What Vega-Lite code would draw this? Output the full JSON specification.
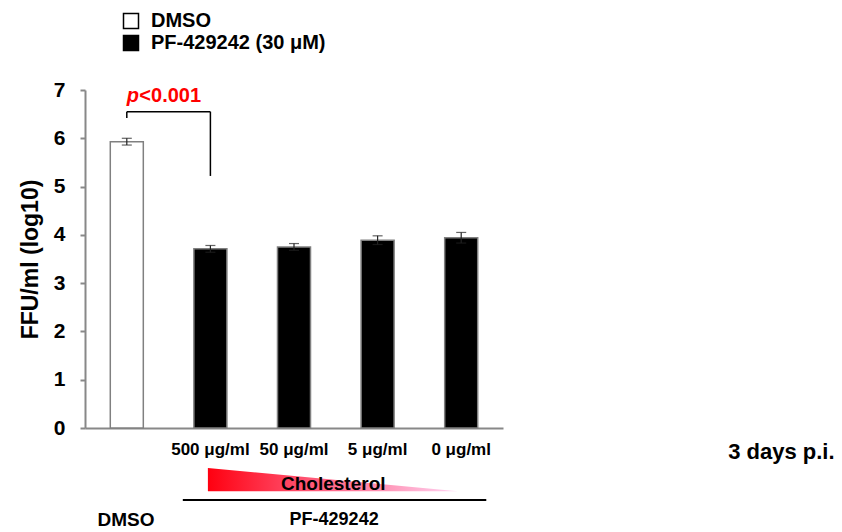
{
  "$schema": "https://vega.github.io/schema/vega-lite/v6.json",
  "autosize": "none",
  "width": 418,
  "height": 338,
  "padding": {"left": 85, "top": 90, "right": 339, "bottom": 104},
  "background": "white",
  "config": {
    "view": {"stroke": null},
    "font": "Liberation Sans",
    "text": {"font": "Liberation Sans", "fontWeight": "bold"}
  },
  "resolve": {"scale": {"x": "independent", "y": "independent"}},
  "layer": [
    {
      "data": {
        "values": [
          {"group": "DMSO", "treatment": "DMSO", "value": 5.93, "lo": 5.86, "hi": 6.0},
          {"group": "500 μg/ml", "treatment": "PF-429242 (30 μM)", "value": 3.71, "lo": 3.64, "hi": 3.78},
          {"group": "50 μg/ml", "treatment": "PF-429242 (30 μM)", "value": 3.75, "lo": 3.68, "hi": 3.82},
          {"group": "5 μg/ml", "treatment": "PF-429242 (30 μM)", "value": 3.89, "lo": 3.8, "hi": 3.98},
          {"group": "0 μg/ml", "treatment": "PF-429242 (30 μM)", "value": 3.94, "lo": 3.83, "hi": 4.05}
        ]
      },
      "layer": [
        {
          "mark": {"type": "bar", "stroke": "#808080", "strokeWidth": 1.5},
          "encoding": {
            "x": {
              "field": "group", "type": "nominal", "sort": null,
              "scale": {"paddingInner": 0.605, "paddingOuter": 0.3025},
              "axis": {
                "title": null,
                "labelExpr": "datum.value == 'DMSO' ? '' : datum.value",
                "labelAngle": 0,
                "labelOverlap": false,
                "ticks": false,
                "tickSize": 0,
                "domainColor": "#888888",
                "domainWidth": 2,
                "labelFont": "Liberation Sans",
                "labelFontWeight": "bold",
                "labelFontSize": 17,
                "labelColor": "black",
                "labelPadding": 13
              }
            },
            "y": {
              "field": "value", "type": "quantitative",
              "scale": {"domain": [0, 7], "nice": false, "zero": true},
              "axis": {
                "title": "FFU/ml (log10)",
                "values": [0, 1, 2, 3, 4, 5, 6, 7],
                "grid": false,
                "domainColor": "#888888",
                "domainWidth": 2,
                "tickColor": "#888888",
                "tickWidth": 2,
                "tickSize": 5,
                "labelFont": "Liberation Sans",
                "labelFontWeight": "bold",
                "labelFontSize": 21,
                "labelColor": "black",
                "labelPadding": 15,
                "titleFont": "Liberation Sans",
                "titleFontWeight": "bold",
                "titleFontSize": 23,
                "titleColor": "black",
                "titlePadding": 11
              }
            },
            "fill": {
              "field": "treatment", "type": "nominal",
              "scale": {"domain": ["DMSO", "PF-429242 (30 μM)"], "range": ["white", "black"]},
              "legend": {
                "orient": "none",
                "legendX": 36,
                "legendY": -79,
                "title": null,
                "symbolType": "square",
                "symbolSize": 225,
                "symbolStrokeColor": "black",
                "symbolStrokeWidth": 1.5,
                "labelFont": "Liberation Sans",
                "labelFontWeight": "bold",
                "labelFontSize": 20,
                "labelColor": "black",
                "labelOffset": 10,
                "labelLimit": 500,
                "rowPadding": 0
              }
            }
          }
        },
        {
          "mark": {"type": "rule", "color": "#222222", "strokeWidth": 1.2},
          "encoding": {
            "x": {"field": "group", "type": "nominal", "sort": null},
            "y": {"field": "lo", "type": "quantitative"},
            "y2": {"field": "hi"}
          }
        },
        {
          "mark": {"type": "tick", "color": "#222222", "size": 10, "thickness": 1.2},
          "encoding": {
            "x": {"field": "group", "type": "nominal", "sort": null},
            "y": {"field": "hi", "type": "quantitative"}
          }
        },
        {
          "mark": {"type": "tick", "color": "#222222", "size": 10, "thickness": 1.2},
          "encoding": {
            "x": {"field": "group", "type": "nominal", "sort": null},
            "y": {"field": "lo", "type": "quantitative"}
          }
        }
      ]
    },
    {
      "layer": [
        {
          "data": {
            "values": [
              {"x": 0.5, "x2": 0.5, "y": 6.42, "y2": 6.55},
              {"x": 0.5, "x2": 1.5, "y": 6.55, "y2": 6.55},
              {"x": 1.5, "x2": 1.5, "y": 5.22, "y2": 6.55}
            ]
          },
          "mark": {"type": "rule", "color": "black", "strokeWidth": 1.5},
          "encoding": {
            "x": {"field": "x", "type": "quantitative", "scale": {"domain": [0, 5], "nice": false, "zero": false}, "axis": null},
            "x2": {"field": "x2"},
            "y": {"field": "y", "type": "quantitative", "scale": {"domain": [0, 7], "nice": false, "zero": false}, "axis": null},
            "y2": {"field": "y2"}
          }
        },
        {
          "data": {"values": [{"x": 0.5, "y": 6.87, "label": "p"}]},
          "mark": {"type": "text", "align": "left", "baseline": "middle", "fontStyle": "italic", "fontWeight": "bold", "fontSize": 20, "color": "#ff0000"},
          "encoding": {
            "x": {"field": "x", "type": "quantitative", "scale": {"domain": [0, 5], "nice": false, "zero": false}, "axis": null},
            "y": {"field": "y", "type": "quantitative", "scale": {"domain": [0, 7], "nice": false, "zero": false}, "axis": null},
            "text": {"field": "label"}
          }
        },
        {
          "data": {"values": [{"x": 0.65, "y": 6.87, "label": "<0.001"}]},
          "mark": {"type": "text", "align": "left", "baseline": "middle", "fontWeight": "bold", "fontSize": 20, "color": "#ff0000"},
          "encoding": {
            "x": {"field": "x", "type": "quantitative", "scale": {"domain": [0, 5], "nice": false, "zero": false}, "axis": null},
            "y": {"field": "y", "type": "quantitative", "scale": {"domain": [0, 7], "nice": false, "zero": false}, "axis": null},
            "text": {"field": "label"}
          }
        },
        {
          "data": {
            "values": [
              {"x": 1.47, "y": -0.83, "y2": -1.31},
              {"x": 4.46, "y": -1.31, "y2": -1.31}
            ]
          },
          "mark": {
            "type": "area",
            "color": {
              "gradient": "linear",
              "x1": 0, "y1": 0, "x2": 1, "y2": 0,
              "stops": [
                {"offset": 0, "color": "#ff0010"},
                {"offset": 0.5, "color": "#ff6a8c"},
                {"offset": 1, "color": "#ffd4f4"}
              ]
            }
          },
          "encoding": {
            "x": {"field": "x", "type": "quantitative", "scale": {"domain": [0, 5], "nice": false, "zero": false}, "axis": null},
            "y": {"field": "y", "type": "quantitative", "scale": {"domain": [0, 7], "nice": false, "zero": false}, "axis": null},
            "y2": {"field": "y2"}
          }
        },
        {
          "data": {"values": [{"x": 1.17, "x2": 4.8, "y": -1.49}]},
          "mark": {"type": "rule", "color": "black", "strokeWidth": 2},
          "encoding": {
            "x": {"field": "x", "type": "quantitative", "scale": {"domain": [0, 5], "nice": false, "zero": false}, "axis": null},
            "x2": {"field": "x2"},
            "y": {"field": "y", "type": "quantitative", "scale": {"domain": [0, 7], "nice": false, "zero": false}, "axis": null}
          }
        },
        {
          "data": {
            "values": [
              {"x": 2.97, "y": -1.16, "label": "Cholesterol", "size": 19},
              {"x": 0.49, "y": -1.91, "label": "DMSO", "size": 19},
              {"x": 2.98, "y": -1.91, "label": "PF-429242", "size": 18},
              {"x": 8.33, "y": -0.5, "label": "3 days p.i.", "size": 22}
            ]
          },
          "mark": {"type": "text", "align": "center", "baseline": "middle", "fontWeight": "bold", "color": "black"},
          "encoding": {
            "x": {"field": "x", "type": "quantitative", "scale": {"domain": [0, 5], "nice": false, "zero": false}, "axis": null},
            "y": {"field": "y", "type": "quantitative", "scale": {"domain": [0, 7], "nice": false, "zero": false}, "axis": null},
            "text": {"field": "label"},
            "size": {"field": "size", "type": "quantitative", "scale": null, "legend": null}
          }
        }
      ]
    }
  ]
}
